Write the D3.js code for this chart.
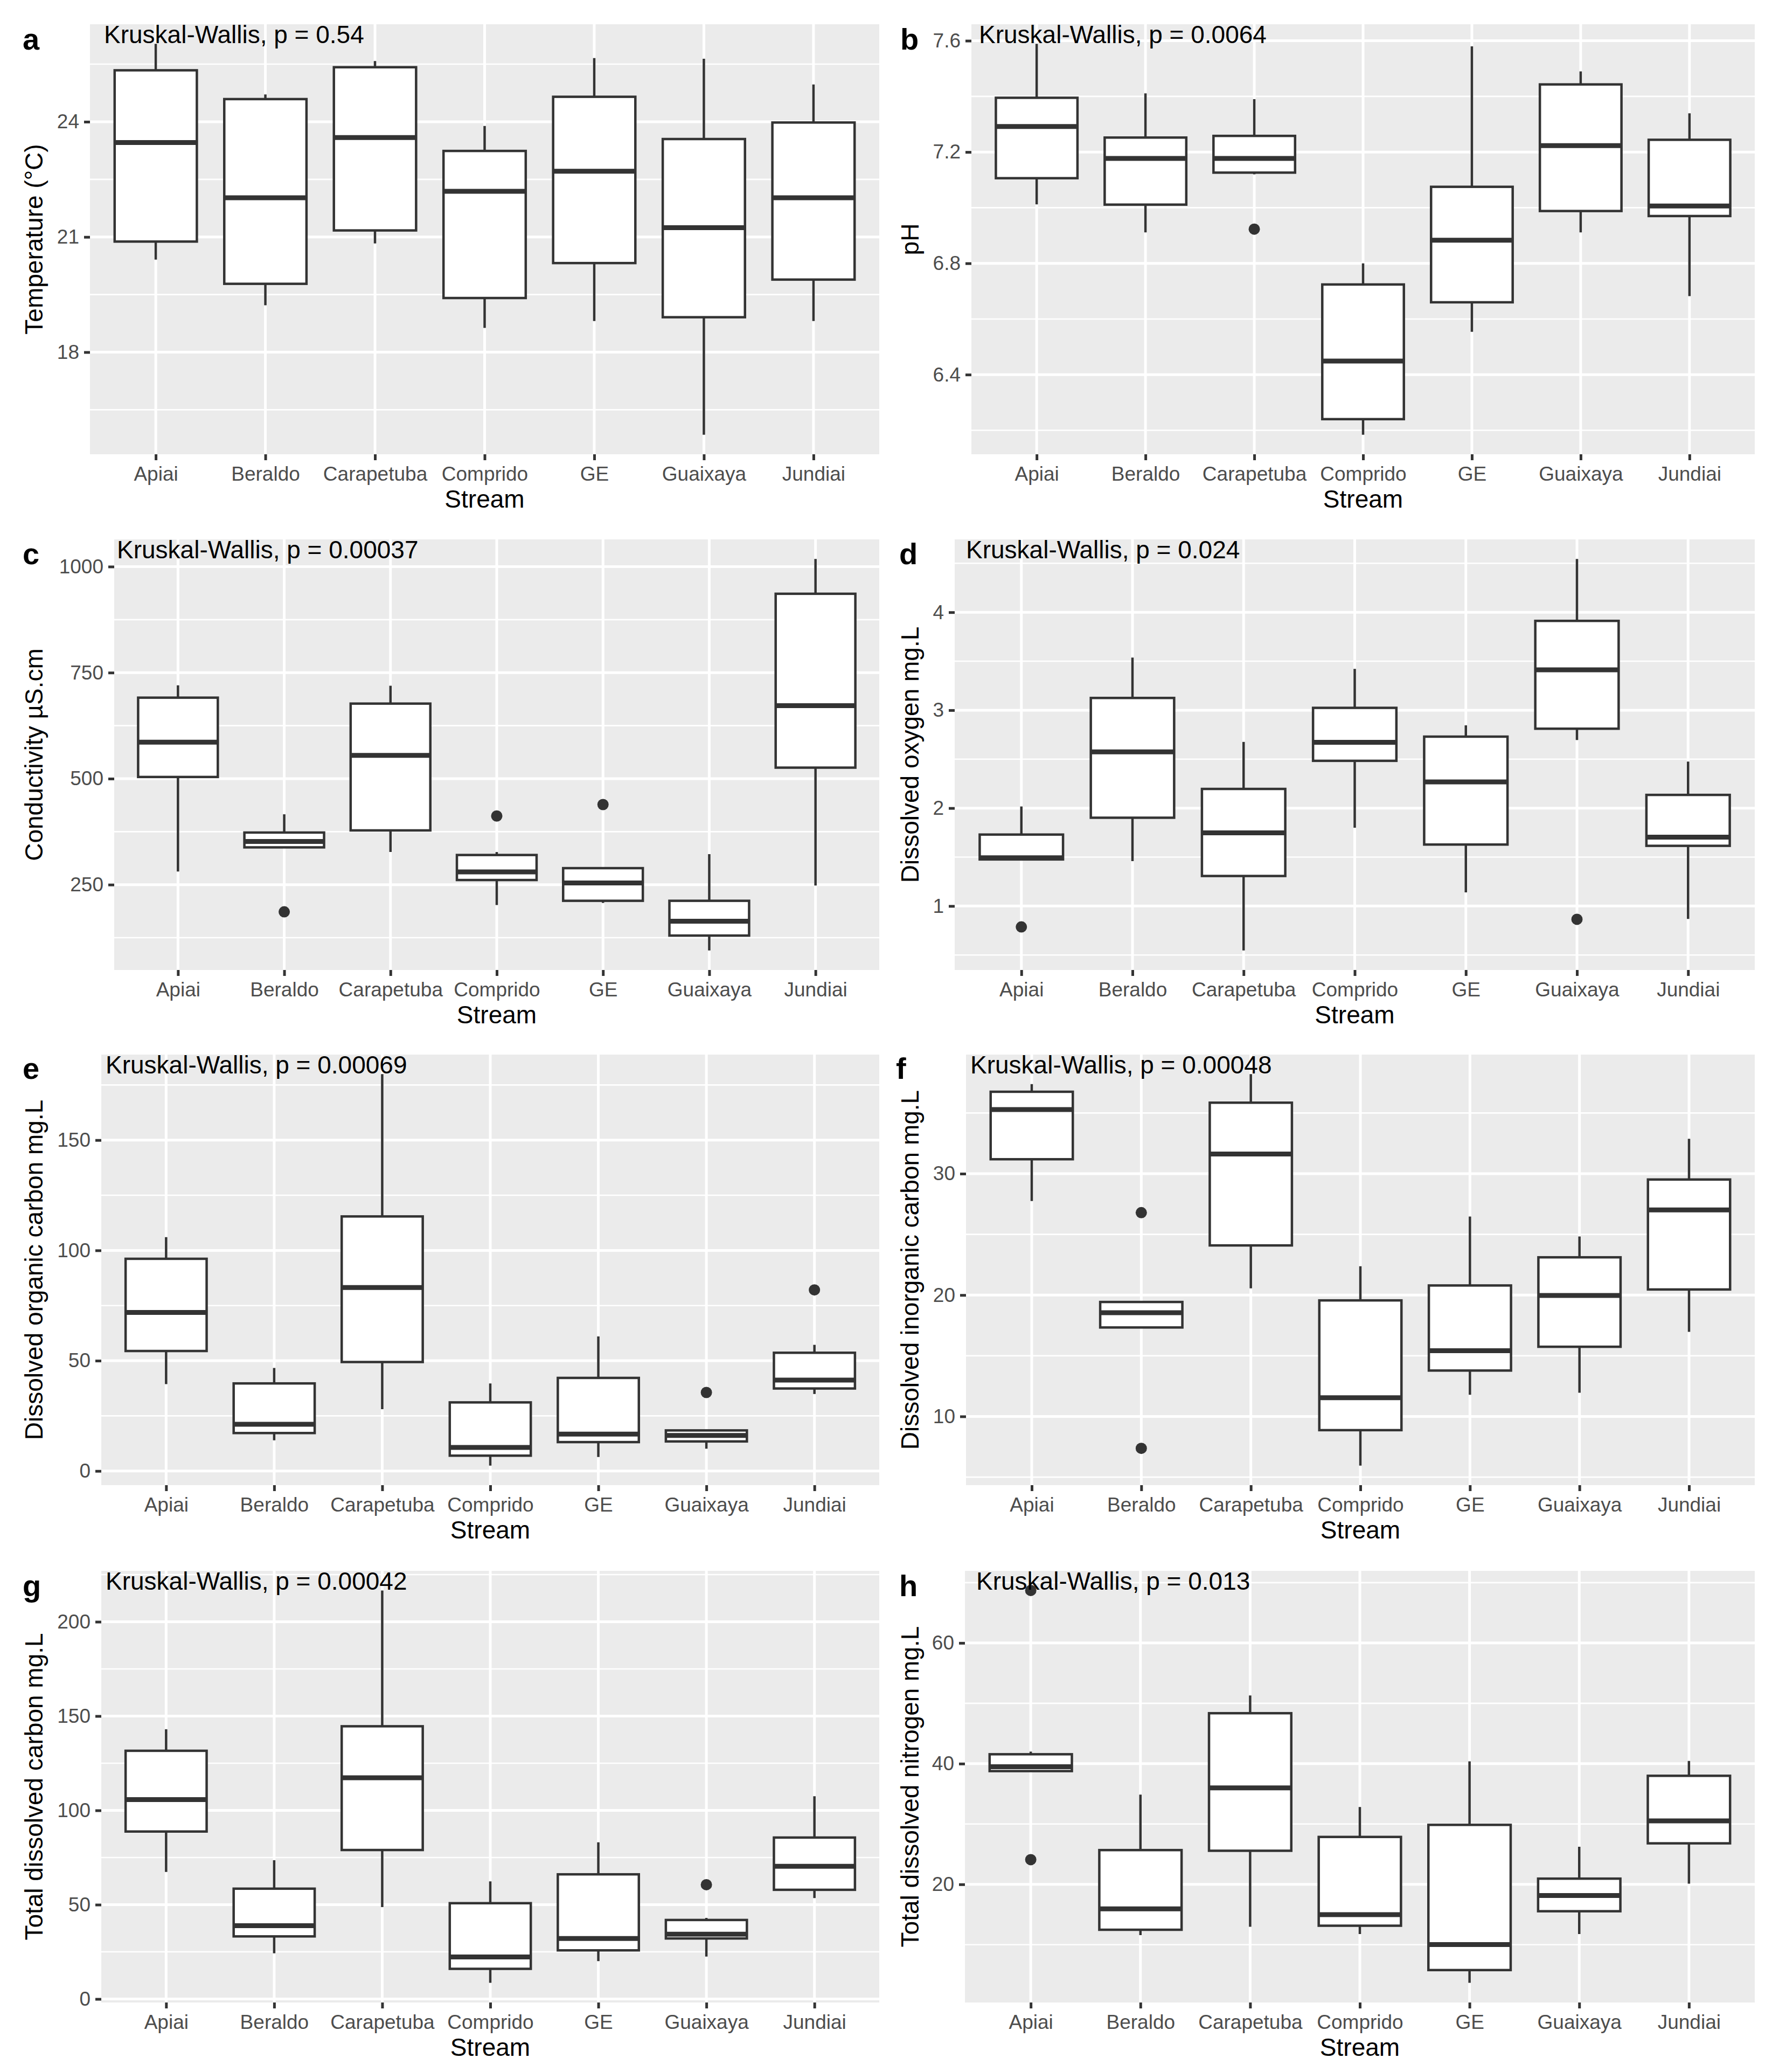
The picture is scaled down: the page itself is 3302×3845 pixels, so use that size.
<!DOCTYPE html>
<html>
<head>
<meta charset="utf-8">
<script src="https://cdn.jsdelivr.net/npm/d3@7/dist/d3.min.js"></script>
<style>
body{margin:0;background:#fff;}
text{font-family:"Liberation Sans",Arial,Helvetica,sans-serif;}
</style>
</head>
<body>
<script>
var streams = ["Apiai","Beraldo","Carapetuba","Comprido","GE","Guaixaya","Jundiai"];

// each row: [lower whisker, q1, median, q3, upper whisker], one per stream
var tempStats = [[20.41,20.88,23.46,25.34,26.03],[19.22,19.78,22.02,24.59,24.71],[20.83,21.17,23.59,25.42,25.58],
    [18.63,19.41,22.19,23.24,23.89],[18.81,20.32,22.71,24.65,25.66],[15.85,18.91,21.24,23.55,25.64],[18.81,19.89,22.02,23.98,24.97]];
var tempOutliers = [[],[],[],[],[],[],[]];
var tempTicks = ["18","21","24"];

var phStats = [[7.012,7.106,7.292,7.395,7.589],[6.911,7.011,7.177,7.252,7.411],[7.12,7.126,7.177,7.258,7.390],
    [6.184,6.240,6.449,6.724,6.80],[6.554,6.660,6.883,7.075,7.58],[6.911,6.988,7.223,7.443,7.490],[6.682,6.970,7.006,7.244,7.339]];
var phOutliers = [[],[],[6.923],[],[],[],[]];
var phTicks = ["6.4","6.8","7.2","7.6"];

var condStats = [[281,504,586,691,720],[336,338,352,373,416],[327,378,555,677,719],
    [202,261,280,320,327],[207,212,254,289,290],[95,130,164,212,322],[248,526,672,936,1018]];
var condOutliers = [[],[186],[],[412],[439],[],[]];
var condTicks = ["250","500","750","1000"];

var doStats = [[1.47,1.476,1.493,1.73,2.017],[1.459,1.902,2.574,3.125,3.537],[0.547,1.307,1.747,2.196,2.676],
    [1.80,2.483,2.672,3.024,3.422],[1.139,1.628,2.267,2.73,2.845],[2.696,2.811,3.412,3.912,4.544],[0.868,1.615,1.703,2.135,2.476]];
var doOutliers = [[0.787],[],[],[],[],[0.865],[]];
var doTicks = ["1","2","3","4"];

var docStats = [[39.4,54.4,71.9,96.2,106],[13.9,17.2,21.2,39.7,46.7],[28.0,49.4,83.2,115.4,179.9],
    [2.45,6.95,10.7,31.1,39.7],[6.35,13.1,16.7,42.2,61],[10.1,13.4,16.1,18.4,18.65],[34.9,37.4,41.2,53.6,57.2]];
var docOutliers = [[],[],[],[],[],[35.6],[82.1]];
var docTicks = ["0","50","100","150"];

var dicStats = [[27.75,31.19,35.28,36.75,37.38],[17.33,17.33,18.55,19.43,19.43],[20.55,24.09,31.62,35.85,38.2],
    [5.95,8.87,11.54,19.56,22.37],[11.79,13.78,15.42,20.79,26.47],[11.95,15.74,19.97,23.11,24.83],[16.97,20.46,27.01,29.52,32.88]];
var dicOutliers = [[],[26.79,7.37],[],[],[],[],[]];
var dicTicks = ["10","20","30"];

var tdcStats = [[67.4,88.8,105.7,131.6,143],[24.2,33.2,38.9,58.5,73.6],[48.7,79.0,117.3,144.6,216.6],
    [8.56,16.0,22.3,50.8,62.4],[20.1,25.8,32.1,66.1,83.1],[22.5,32.1,34.4,41.9,43.0],[53.5,57.9,70.4,85.6,107.5]];
var tdcOutliers = [[],[],[],[],[],[60.6],[]];
var tdcTicks = ["0","50","100","150","200"];

var tdnStats = [[38.77,38.77,39.5,41.56,42.0],[11.59,12.48,15.94,25.68,34.87],[12.98,25.57,35.99,48.36,51.3],
    [11.76,13.15,14.99,27.86,32.81],[3.68,5.80,10.03,29.86,40.39],[11.76,15.55,18.16,20.95,26.24],[20.11,26.8,30.53,37.99,40.45]];
var tdnOutliers = [[68.7,24.1],[],[],[],[],[],[]];
var tdnTicks = ["20","40","60"];

var tags = ["a","b","c","d","e","f","g","h"];
var yTitles = ["Temperature (\u00B0C)","pH","Conductivity \u00B5S.cm","Dissolved oxygen mg.L",
    "Dissolved organic carbon mg.L","Dissolved inorganic carbon mg.L","Total dissolved carbon mg.L","Total dissolved nitrogen mg.L"];
var pLabels = ["Kruskal-Wallis, p = 0.54","Kruskal-Wallis, p = 0.0064","Kruskal-Wallis, p = 0.00037","Kruskal-Wallis, p = 0.024",
    "Kruskal-Wallis, p = 0.00069","Kruskal-Wallis, p = 0.00048","Kruskal-Wallis, p = 0.00042","Kruskal-Wallis, p = 0.013"];

var allStats = [tempStats,phStats,condStats,doStats,docStats,dicStats,tdcStats,tdnStats];
var allOutliers = [tempOutliers,phOutliers,condOutliers,doOutliers,docOutliers,dicOutliers,tdcOutliers,tdnOutliers];
var allTicks = [tempTicks,phTicks,condTicks,doTicks,docTicks,dicTicks,tdcTicks,tdnTicks];

// page layout (pixels)
var rowTop = [0,955,1910,2870];
var panelTop = [45,1001,1957,2915];
var panelBottom = [843,1800,2756,3716];
var panelLeft = [167,1803,212,1772,188,1793,188,1791];
var panelRight = [1632,3257];
var titleX = [79,1705];
var tagX = [42,1671,42,1669,42,1663,42,1669];
var pOffset = [26,14,5,21,8,8,8,21];

var boxColor = "#333333";

var drawPanel = function(svg, i){
    var row = Math.floor(i/2), col = i%2;
    var L = {left:panelLeft[i], right:panelRight[col], top:panelTop[row], bottom:panelBottom[row]};
    var stats = allStats[i], outs = allOutliers[i];
    var ticks = allTicks[i].map(Number);

    var vals = [];
    stats.forEach(function(s){ vals.push(s[0], s[4]); });
    outs.forEach(function(o){ vals = vals.concat(o); });
    var lo = d3.min(vals), hi = d3.max(vals), pad = (hi-lo)*0.05;

    var xScale = d3.scalePoint().domain(streams).range([L.left,L.right]).padding(0.6);
    var yScale = d3.scaleLinear().domain([lo-pad,hi+pad]).range([L.bottom,L.top]);
    var bw = xScale.step()*0.75;

    var g = svg.append("g");
    g.append("rect")
        .attr("x",L.left).attr("y",L.top)
        .attr("width",L.right-L.left).attr("height",L.bottom-L.top)
        .attr("fill","#EBEBEB");

    var step = ticks[1]-ticks[0];
    var minor = [];
    for (var k = -1; k < ticks.length+1; k++){
        var v = ticks[0] + step*(k+0.5);
        if (v > lo-pad && v < hi+pad) minor.push(v);
    }
    g.selectAll(".minor").data(minor).enter().append("line")
        .attr("x1",L.left).attr("x2",L.right)
        .attr("y1",function(d){return yScale(d);}).attr("y2",function(d){return yScale(d);})
        .attr("stroke","#fff").attr("stroke-width",2.6);
    g.selectAll(".major").data(ticks).enter().append("line")
        .attr("x1",L.left).attr("x2",L.right)
        .attr("y1",function(d){return yScale(d);}).attr("y2",function(d){return yScale(d);})
        .attr("stroke","#fff").attr("stroke-width",5);
    g.selectAll(".vgrid").data(streams).enter().append("line")
        .attr("x1",function(d){return xScale(d);}).attr("x2",function(d){return xScale(d);})
        .attr("y1",L.top).attr("y2",L.bottom)
        .attr("stroke","#fff").attr("stroke-width",5);

    var boxes = g.selectAll(".box").data(stats).enter().append("g");
    boxes.append("line")
        .attr("x1",function(d,j){return xScale(streams[j]);}).attr("x2",function(d,j){return xScale(streams[j]);})
        .attr("y1",function(d){return yScale(d[4]);}).attr("y2",function(d){return yScale(d[0]);})
        .attr("stroke",boxColor).attr("stroke-width",4.5);
    boxes.append("rect")
        .attr("x",function(d,j){return xScale(streams[j])-bw/2;})
        .attr("y",function(d){return yScale(d[3]);})
        .attr("width",bw)
        .attr("height",function(d){return yScale(d[1])-yScale(d[3]);})
        .attr("fill","#fff").attr("stroke",boxColor).attr("stroke-width",4.5);
    boxes.append("line")
        .attr("x1",function(d,j){return xScale(streams[j])-bw/2;}).attr("x2",function(d,j){return xScale(streams[j])+bw/2;})
        .attr("y1",function(d){return yScale(d[2]);}).attr("y2",function(d){return yScale(d[2]);})
        .attr("stroke",boxColor).attr("stroke-width",9);

    var pts = [];
    outs.forEach(function(o,j){ o.forEach(function(v){ pts.push({s:streams[j],v:v}); }); });
    g.selectAll(".out").data(pts).enter().append("circle")
        .attr("cx",function(d){return xScale(d.s);}).attr("cy",function(d){return yScale(d.v);})
        .attr("r",10.5).attr("fill",boxColor);

    var yAxis = d3.axisLeft(yScale).tickValues(ticks)
        .tickFormat(function(d,j){return allTicks[i][j];})
        .tickSize(11).tickPadding(9);
    var xAxis = d3.axisBottom(xScale).tickSize(11).tickPadding(12);
    var ya = g.append("g").attr("transform","translate("+L.left+",0)").call(yAxis);
    var xa = g.append("g").attr("transform","translate(0,"+L.bottom+")").call(xAxis);
    [ya,xa].forEach(function(a){
        a.select(".domain").remove();
        a.attr("font-family",null).attr("font-size",null);
        a.selectAll(".tick line").attr("stroke",boxColor).attr("stroke-width",5);
        a.selectAll(".tick text").attr("fill","#4D4D4D").style("font-size","37px");
    });

    g.append("text")
        .attr("x",(L.left+L.right)/2).attr("y",L.bottom+99)
        .attr("text-anchor","middle").style("font-size","46px").attr("fill","#000")
        .text("Stream");
    g.append("text")
        .attr("transform","translate("+titleX[col]+","+((L.top+L.bottom)/2)+") rotate(-90)")
        .attr("text-anchor","middle").style("font-size","46px").attr("fill","#000")
        .text(yTitles[i]);
    g.append("text")
        .attr("x",L.left+pOffset[i]).attr("y",L.top+35)
        .style("font-size","46px").attr("fill","#000")
        .text(pLabels[i]);
    g.append("text")
        .attr("x",tagX[i]).attr("y",rowTop[row]+92)
        .style("font-size","56px").style("font-weight","bold").attr("fill","#000")
        .text(tags[i]);
}

var loadFigure = function(){
    var svg = d3.select("body").append("svg")
        .attr("width",3302).attr("height",3845);
    svg.append("rect").attr("width",3302).attr("height",3845).attr("fill","#fff");
    for (var i = 0; i < 8; i++) drawPanel(svg, i);
}

window.onload = loadFigure;
</script>
</body>
</html>
